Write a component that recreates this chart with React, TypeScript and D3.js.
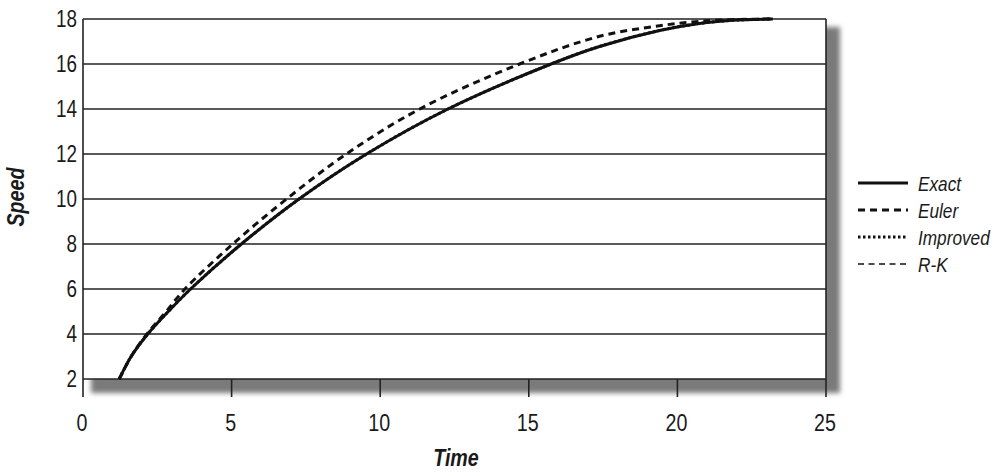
import React from "react";
import * as d3 from "d3";

const exactT = [1.22, 1.62, 2.18, 2.87, 3.62, 5.33, 7.27, 9.54, 12.28, 15.75, 17.38, 19.4, 20.74, 21.85, 23.2];
const exactV = [2, 3, 4, 5, 6, 8, 10, 12, 14, 16, 16.78, 17.49, 17.8, 17.94, 18];
const eulerT = [1.22, 1.62, 2.15, 2.8, 3.43, 5.04, 6.85, 8.86, 11.33, 14.69, 17.38, 19.4, 20.6, 21.8, 23.2];
const eulerV = [2, 3, 4, 5, 6, 8, 10, 12, 14, 16, 17.23, 17.7, 17.88, 17.97, 18];
// Improved and R-K coincide with the exact solution at this scale
const improvedT = exactT;
const improvedV = exactV;
const rkT = exactT;
const rkV = exactV;

const xTicks = [0, 5, 10, 15, 20, 25];
const yTicks = [2, 4, 6, 8, 10, 12, 14, 16, 18];
const legendLabels = ["Exact", "Euler", "Improved", "R-K"];

const W = 1000;
const H = 474;
const FONT = "'Liberation Sans', Arial, sans-serif";
const SX = 0.82;

function T(props: {
  x: number; y: number; size: number; anchor?: string; bold?: boolean; italic?: boolean; rot?: number; dy?: string; children: React.ReactNode;
}) {
  const { x, y, size, anchor = "start", bold, italic, rot = 0, dy, children } = props;
  return (
    <text
      transform={`translate(${x},${y}) rotate(${rot}) scale(${SX},1)`}
      textAnchor={anchor}
      dy={dy}
      fontFamily={FONT}
      fontSize={size}
      fontWeight={bold ? "bold" : "normal"}
      fontStyle={italic ? "italic" : "normal"}
      fill="#1a1a1a"
    >
      {children}
    </text>
  );
}

export default function App() {
  const x = d3.scaleLinear().domain([0, 25]).range([83, 826]);
  const y = d3.scaleLinear().domain([2, 18]).range([379, 19]);
  const line = d3
    .line<[number, number]>()
    .x((d) => x(d[0]))
    .y((d) => y(d[1]))
    .curve(d3.curveCatmullRom.alpha(0.5));
  const zip = (a: number[], b: number[]) => a.map((v, i) => [v, b[i]] as [number, number]);

  const series = [
    { name: legendLabels[3], d: zip(rkT, rkV), w: 1.5, dash: "6 4.5" },
    { name: legendLabels[2], d: zip(improvedT, improvedV), w: 3, dash: "2.5 2.5" },
    { name: legendLabels[1], d: zip(eulerT, eulerV), w: 3, dash: "7 5" },
    { name: legendLabels[0], d: zip(exactT, exactV), w: 3, dash: "" },
  ];
  const legendStyles = [
    { w: 3, dash: "" },
    { w: 3, dash: "7 5" },
    { w: 3, dash: "2.5 2.5" },
    { w: 1.5, dash: "6 4.5" },
  ];
  const legendY = [183, 210, 237, 264];
  const x0 = x(0), x1 = x(25), yTop = y(18), yBot = y(2);

  return (
    <svg width={W} height={H} style={{ position: "absolute", left: 0, top: 0, background: "#fff" }}>
      <defs>
        <filter id="blur" x="-10%" y="-10%" width="120%" height="120%">
          <feGaussianBlur stdDeviation="2.5" />
        </filter>
      </defs>
      <rect x={x0 + 8} y={yTop + 8} width={x1 - x0 + 6} height={yBot - yTop + 6} fill="#7a7a7a" filter="url(#blur)" />
      <rect x={x0} y={yTop} width={x1 - x0} height={yBot - yTop} fill="#fff" />
      {yTicks.map((t) => (
        <line key={"g" + t} x1={x0} x2={x1} y1={y(t)} y2={y(t)} stroke="#222" strokeWidth={1.6} />
      ))}
      {xTicks.map((t) => (
        <line key={"xt" + t} x1={x(t)} x2={x(t)} y1={t === 0 || t === 25 ? yTop : yBot} y2={yBot + 18} stroke="#222" strokeWidth={1.6} />
      ))}
      {series.map((s) => (
        <path key={s.name} d={line(s.d) || ""} fill="none" stroke="#111" strokeWidth={s.w} strokeDasharray={s.dash || undefined} />
      ))}
      {yTicks.map((t) => (
        <T key={"yl" + t} x={77} y={y(t)} dy="0.36em" anchor="end" size={23}>
          {t}
        </T>
      ))}
      {xTicks.map((t) => (
        <T key={"xl" + t} x={x(t) - 1} y={431} anchor="middle" size={24}>
          {t}
        </T>
      ))}
      <T x={456} y={466} anchor="middle" size={24} bold italic>
        Time
      </T>
      <T x={24} y={197} rot={-90} anchor="middle" size={24} bold italic>
        Speed
      </T>
      {legendLabels.map((l, i) => (
        <g key={l}>
          <line x1={858} x2={908} y1={legendY[i]} y2={legendY[i]} stroke="#111" strokeWidth={legendStyles[i].w} strokeDasharray={legendStyles[i].dash || undefined} />
          <T x={918} y={legendY[i]} dy="0.36em" size={21} italic>
            {l}
          </T>
        </g>
      ))}
    </svg>
  );
}
